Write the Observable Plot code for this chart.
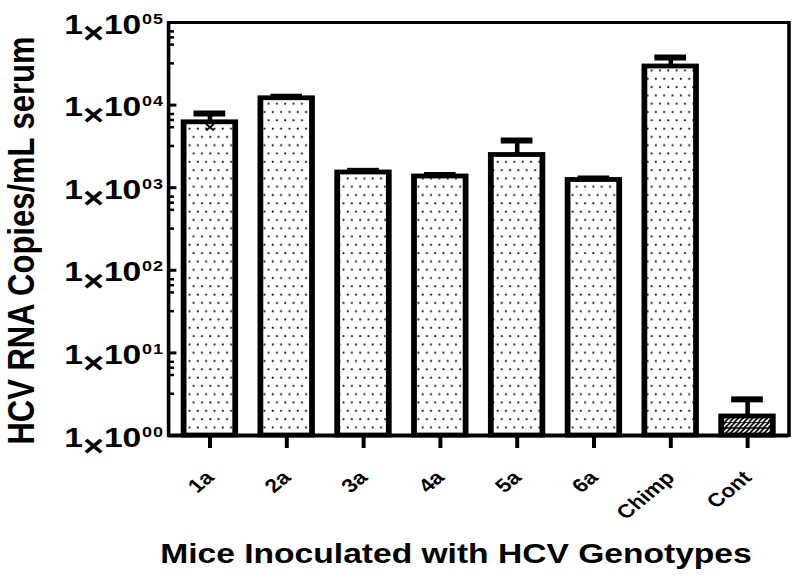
<!DOCTYPE html>
<html><head><meta charset="utf-8">
<script src="https://cdn.jsdelivr.net/npm/d3@7"></script>
<script src="https://cdn.jsdelivr.net/npm/@observablehq/plot@0.6"></script>
<style>
html,body{margin:0;padding:0;background:#fff;}
#chart svg{transform:scaleX(1.2);transform-origin:0 0;overflow:visible;}
</style>
</head><body><div id="chart"></div>
<script>
const categories = ["1a","2a","3a","4a","5a","6a","Chimp","Cont"];
const means  = [6190, 12090, 1528, 1367, 2489, 1240, 29330, 1.70];
const uppers = [7900, 12600, 1600, 1420, 3727, 1290, 37700, 2.74];
const lowerCats = ["1a"];
const lowerVals = [5400];
const decades = [1, 10, 100, 1000, 10000, 100000];
const exponents = ["0","1","2","3","4","5"];
const minorMultipliers = [7.8, 6.6, 5.4, 3.2];
const xTitle = "Mice Inoculated with HCV Genotypes";
const yTitle = "HCV RNA Copies/mL serum";

const FONT = "'Liberation Sans', Arial, Helvetica, sans-serif";
const data = categories.map((cat, i) => ({cat, mean: means[i], upper: uppers[i]}));
const lowers = lowerCats.map((cat, i) => ({cat, lower: lowerVals[i]}));
const minors = decades.slice(0, -1).flatMap(d => minorMultipliers.map(m => d * m));
const decadeRows = decades.map((v, i) => ({v, e: exponents[i]}));

const svg = Plot.plot({
  width: 665, height: 581,
  marginTop: 22, marginBottom: 146, marginLeft: 140, marginRight: 8,
  style: {fontFamily: FONT, background: "white"},
  x: {type: "band", domain: categories, paddingInner: 0.335, paddingOuter: 0.1675},
  y: {type: "log", domain: [1, 1e5], axis: null},
  marks: [
    Plot.barY(data.filter(d => d.cat !== "Cont"), {x: "cat", y1: () => 1, y2: "mean", fill: "url(#dots)", stroke: "black", strokeWidth: 4.8}),
    Plot.barY(data.filter(d => d.cat === "Cont"), {x: "cat", y1: () => 1, y2: "mean", fill: "url(#hatch)", stroke: "black", strokeWidth: 4.8}),
    Plot.ruleX(data, {x: "cat", y1: "mean", y2: "upper", stroke: "black", strokeWidth: 3.8}),
    Plot.tickY(data, {x: "cat", y: "upper", stroke: "black", strokeWidth: 6, insetLeft: 8.3, insetRight: 8.3}),
    Plot.dot(lowers, {x: "cat", y: "lower", symbol: "times", r: 3, stroke: "black", strokeWidth: 1.8}),
    Plot.frame({stroke: "black", strokeWidth: 3}),
    Plot.ruleY([1], {stroke: "black", strokeWidth: 4}),
    Plot.tickY(decades, {y: d => d, stroke: "black", strokeWidth: 3, insetRight: 510}),
    Plot.tickY(minors, {y: d => d, stroke: "black", strokeWidth: 2.5, insetRight: 512}),
    Plot.axisX({tickSize: 13, strokeWidth: 3.3, stroke: "black", tickFormat: () => "", label: null}),
    Plot.text(categories, {x: d => d, text: d => d, frameAnchor: "bottom", rotate: -45, textAnchor: "end", lineAnchor: "middle", dx: 0, dy: 39, fontSize: 19, fontWeight: "bold", fontFamily: FONT, fill: "black"}),
    Plot.text(decadeRows, {y: "v", text: d => "1\u00d710" + d.e, ariaDescription: "ytick-label", frameAnchor: "left", textAnchor: "start", lineAnchor: "bottom", fontSize: 28, fontWeight: "bold", fontFamily: FONT, fill: "black", dx: -87, dy: 11}),
    Plot.text([xTitle], {frameAnchor: "bottom", textAnchor: "middle", lineAnchor: "bottom", dx: -19, dy: 127, fontSize: 28, fontWeight: "bold", fontFamily: FONT, fill: "black"}),
    Plot.text([yTitle], {frameAnchor: "left", rotate: -90, textAnchor: "middle", lineAnchor: "bottom", dx: -112.5, dy: 11.5, fontSize: 31, fontWeight: "bold", fontFamily: FONT, fill: "black"})
  ]
});

const s = d3.select(svg);
// tick labels of the form 1×10^0e, typeset as in the original (lowered ×, raised "0 e")
s.selectAll('g[aria-description="ytick-label"] text').each(function () {
  const t = d3.select(this);
  const e = this.textContent.slice(-1);
  t.text(null);
  t.append("tspan").text("1");
  t.append("tspan").attr("font-size", 30).attr("dy", 9.2).text("\u00d7");
  t.append("tspan").attr("font-size", 28).attr("dy", -9.2).text("10");
  t.append("tspan").attr("font-size", 15).attr("dx", 0.5).attr("dy", -10).text("0");
  t.append("tspan").attr("font-size", 15).attr("dx", 1).text(e);
});

const defs = s.insert("defs", ":first-child");
const pw = 6.94, ph = 16.6;
const dots = defs.append("pattern").attr("id", "dots").attr("patternUnits", "userSpaceOnUse").attr("width", pw).attr("height", ph);
dots.append("rect").attr("width", pw).attr("height", ph).attr("fill", "white");
dots.append("rect").attr("x", 1.0).attr("y", 3.2).attr("width", 1.5).attr("height", 1.8).attr("fill", "black");
dots.append("rect").attr("x", 1.0 + pw / 2).attr("y", 3.2 + ph / 2).attr("width", 1.5).attr("height", 1.8).attr("fill", "black");
const hatch = defs.append("pattern").attr("id", "hatch").attr("patternUnits", "userSpaceOnUse").attr("width", 8).attr("height", 12).attr("y", 2);
hatch.append("rect").attr("width", 8).attr("height", 12).attr("fill", "white");
hatch.append("path").attr("d", "M0,6 L5,0 M4,6 L9,0 M-4,6 L1,0 M0,12 L5,6 M4,12 L9,6 M-4,12 L1,6 M0,6 H8 M0,0 H8")
  .attr("stroke", "black").attr("stroke-width", 1.6).attr("fill", "none");

document.getElementById("chart").appendChild(svg);
</script>
</body></html>
